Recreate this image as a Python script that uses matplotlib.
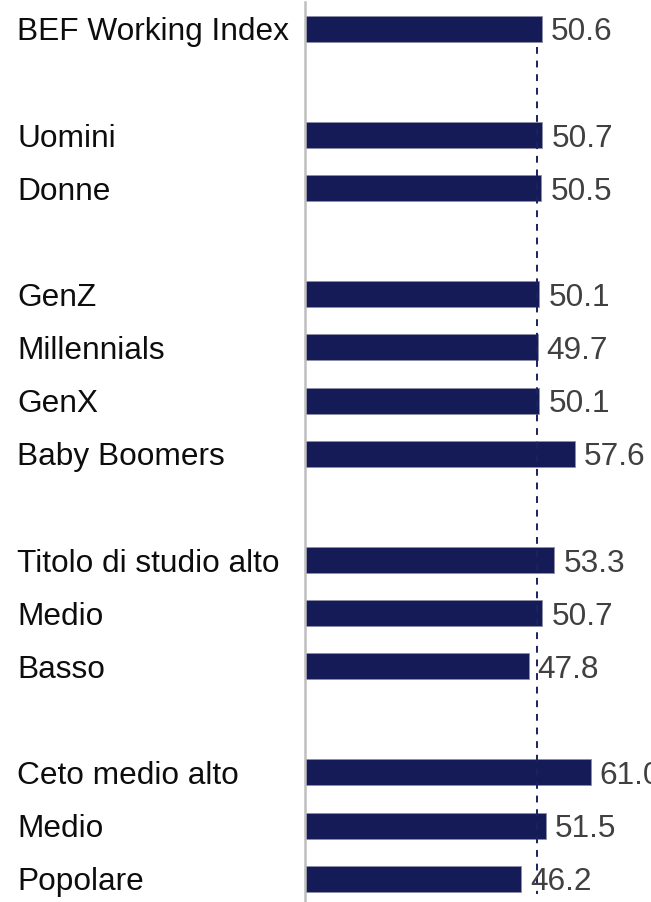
import matplotlib
matplotlib.use("Agg")
import matplotlib.pyplot as plt
from matplotlib import transforms
import numpy as np

# ---- data ----
labels = ["BEF Working Index", "Uomini", "Donne", "GenZ", "Millennials", "GenX",
          "Baby Boomers", "Titolo di studio alto", "Medio", "Basso",
          "Ceto medio alto", "Medio", "Popolare"]
values = [50.6, 50.7, 50.5, 50.1, 49.7, 50.1, 57.6, 53.3, 50.7, 47.8, 61.0, 51.5, 46.2]
group_sizes = [1, 2, 4, 3, 3]
reference_value = 49.5

# ---- positions (one empty slot between groups) ----
positions = []
slot = 0
for g in group_sizes:
    for _ in range(g):
        positions.append(slot)
        slot += 1
    slot += 1
positions = np.array(positions, dtype=float)

plt.rcParams['font.family'] = ['Liberation Sans', 'DejaVu Sans']

W, H = 651, 903
fig = plt.figure(figsize=(W / 100, H / 100), dpi=100)
left_px = 304.5
ax = fig.add_axes([left_px / W, 0, 1 - left_px / W, 1])

px_per_unit = 4.69
ax.set_xlim(0, (W - left_px) / px_per_unit)
row_px = 53.125
first_center = 29.7
ax.set_ylim(positions[-1] + (H - first_center - positions[-1] * row_px) / row_px,
            -first_center / row_px)

bar_color = '#141b56'
ax.barh(positions, values, height=0.49, color=bar_color,
        edgecolor='#8d8fa8', linewidth=0.6, zorder=2)

# reference dashed line
ax.vlines(reference_value, positions[0] + 0.35, positions[-1] + 0.29,
          colors='#1a2260', linestyles=(0, (3.5, 3.5)), linewidth=1.4, zorder=3)

fs = 22.8
# value labels
for p, v in zip(positions, values):
    ax.annotate(f"{v:.1f}", xy=(v, p), xytext=(6.5, -7.6), textcoords='offset points',
                ha='left', va='baseline', fontsize=fs, color='#404040',
                annotation_clip=False, zorder=4)

# category labels, left aligned in figure space
trans = transforms.blended_transform_factory(fig.transFigure, ax.transData)
for p, lab in zip(positions, labels):
    ax.annotate(lab, xy=(17 / W, p), xycoords=trans, xytext=(0, -7.6),
                textcoords='offset points', ha='left', va='baseline',
                fontsize=fs, color='#0d0d0d', annotation_clip=False)

for s in ['top', 'right', 'bottom']:
    ax.spines[s].set_visible(False)
ax.spines['left'].set_color('#bfbfbf')
ax.spines['left'].set_linewidth(1.8)
ax.spines['left'].set_bounds(ax.get_ylim()[1] + 3 / row_px, ax.get_ylim()[0])
ax.set_xticks([])
ax.set_yticks([])
ax.patch.set_alpha(0)

fig.savefig("out.png", dpi=100)
